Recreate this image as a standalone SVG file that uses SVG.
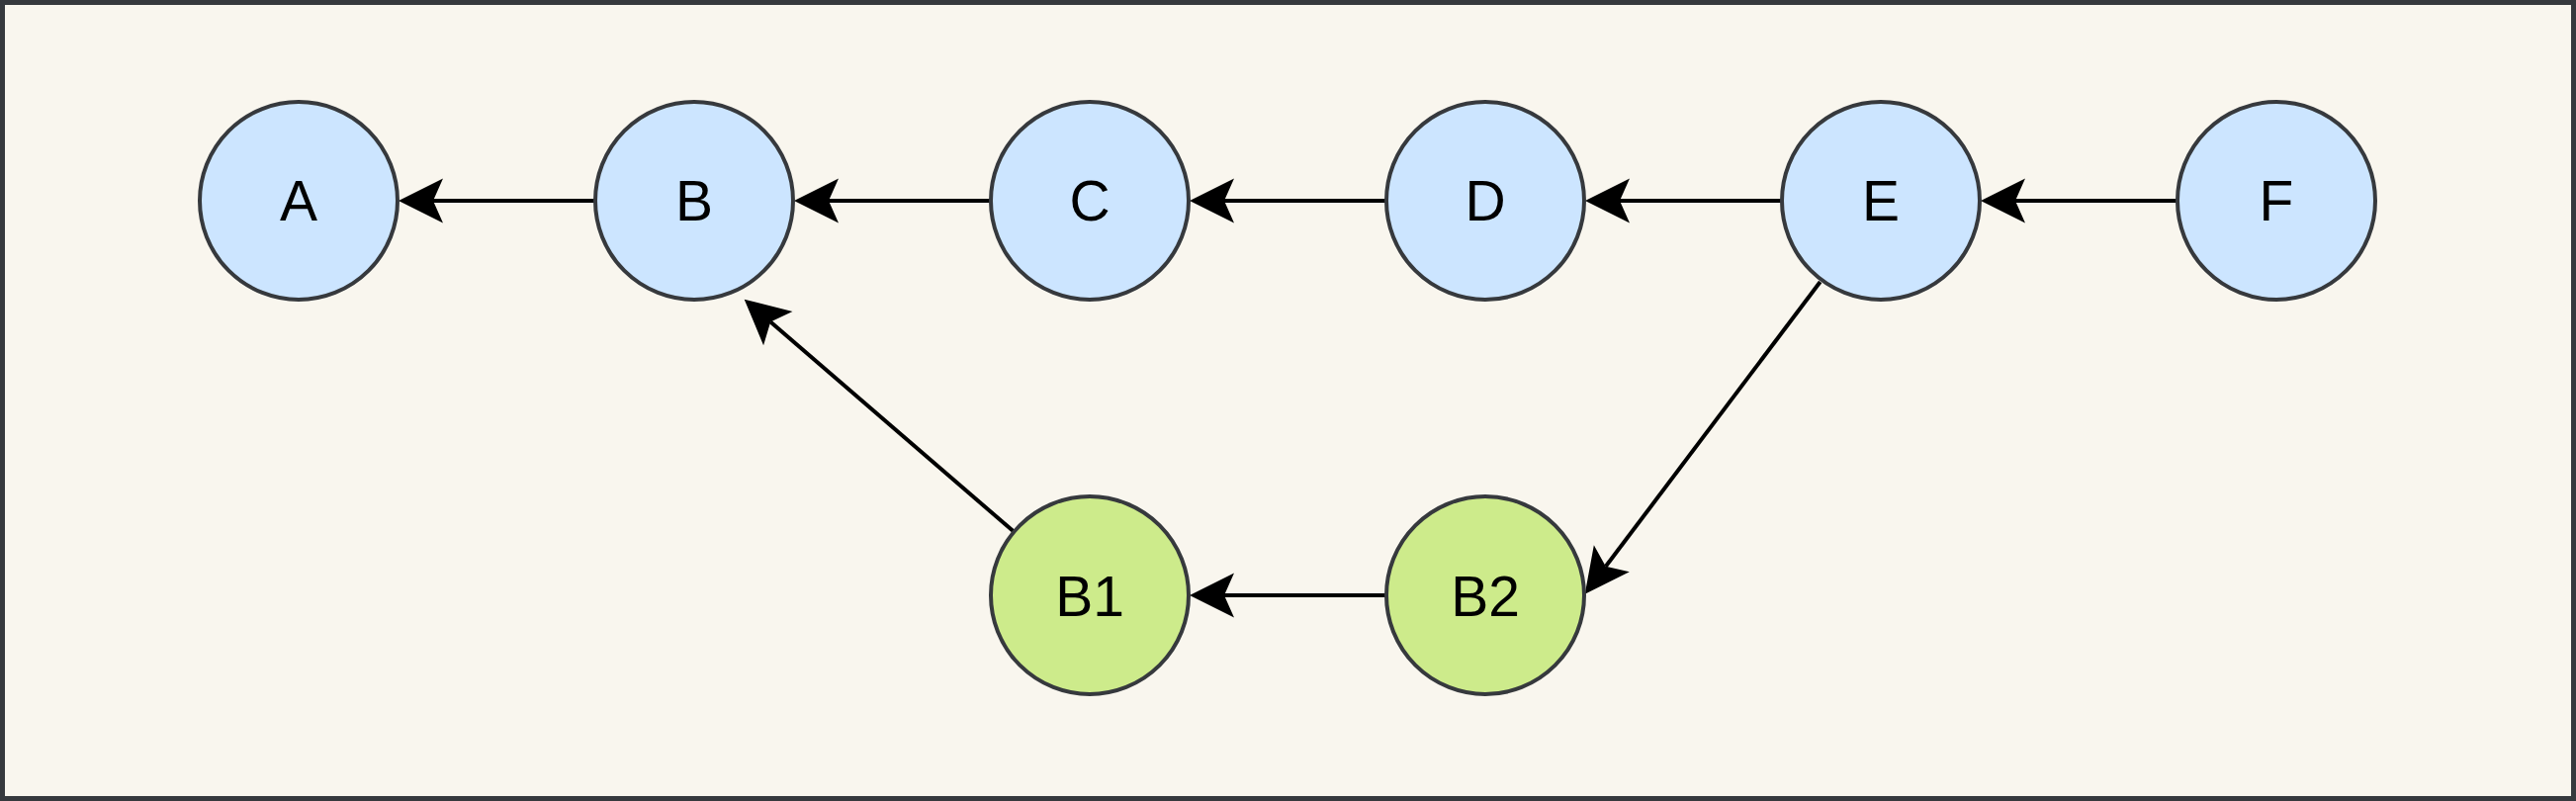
<svg xmlns="http://www.w3.org/2000/svg" width="2605" height="810" viewBox="0 0 2605 810">
  <style>
    .blue { fill: #cce5ff; stroke: #36393d; stroke-width: 4; }
    .green { fill: #cdeb8b; stroke: #36393d; stroke-width: 4; }
    .lbl { font-family: "Liberation Sans", Arial, sans-serif; font-size: 57px; fill: #000000; text-anchor: middle; }
    .edge { fill: none; stroke: #000000; stroke-width: 4; marker-end: url(#arrow); }
  </style>
  <defs>
    <marker id="arrow" markerUnits="userSpaceOnUse" viewBox="-11 -24 48 48" markerWidth="48" markerHeight="48" refX="0" refY="0" orient="auto" overflow="visible">
      <path d="M35,0 L-10,-22.5 L0,0 L-10,22.5 Z" fill="#000000" stroke="none"/>
    </marker>
  </defs>
  <rect x="2.5" y="2.5" width="2600" height="805" fill="#f9f6ee" stroke="#36393d" stroke-width="5"/>
  <g id="connectors">
    <line class="edge" x1="602" y1="203" x2="438" y2="203"/>
    <line class="edge" x1="1002" y1="203" x2="838" y2="203"/>
    <line class="edge" x1="1402" y1="203" x2="1238" y2="203"/>
    <line class="edge" x1="1802" y1="203" x2="1638" y2="203"/>
    <line class="edge" x1="2202" y1="203" x2="2038" y2="203"/>
    <line class="edge" x1="1402" y1="602" x2="1238" y2="602"/>
    <line class="edge" x1="1026" y1="538.3" x2="779.2" y2="325.6"/>
    <line class="edge" x1="1840.7" y1="285" x2="1623.8" y2="572.8"/>
  </g>
  <g id="node-A"><circle class="blue" cx="302" cy="203" r="100"/><text class="lbl" x="302" y="223">A</text></g>
  <g id="node-B"><circle class="blue" cx="702" cy="203" r="100"/><text class="lbl" x="702" y="223">B</text></g>
  <g id="node-C"><circle class="blue" cx="1102" cy="203" r="100"/><text class="lbl" x="1102" y="223">C</text></g>
  <g id="node-D"><circle class="blue" cx="1502" cy="203" r="100"/><text class="lbl" x="1502" y="223">D</text></g>
  <g id="node-E"><circle class="blue" cx="1902" cy="203" r="100"/><text class="lbl" x="1902" y="223">E</text></g>
  <g id="node-F"><circle class="blue" cx="2302" cy="203" r="100"/><text class="lbl" x="2302" y="223">F</text></g>
  <g id="node-B1"><circle class="green" cx="1102" cy="602" r="100"/><text class="lbl" x="1102" y="623">B1</text></g>
  <g id="node-B2"><circle class="green" cx="1502" cy="602" r="100"/><text class="lbl" x="1502" y="623">B2</text></g>
</svg>
